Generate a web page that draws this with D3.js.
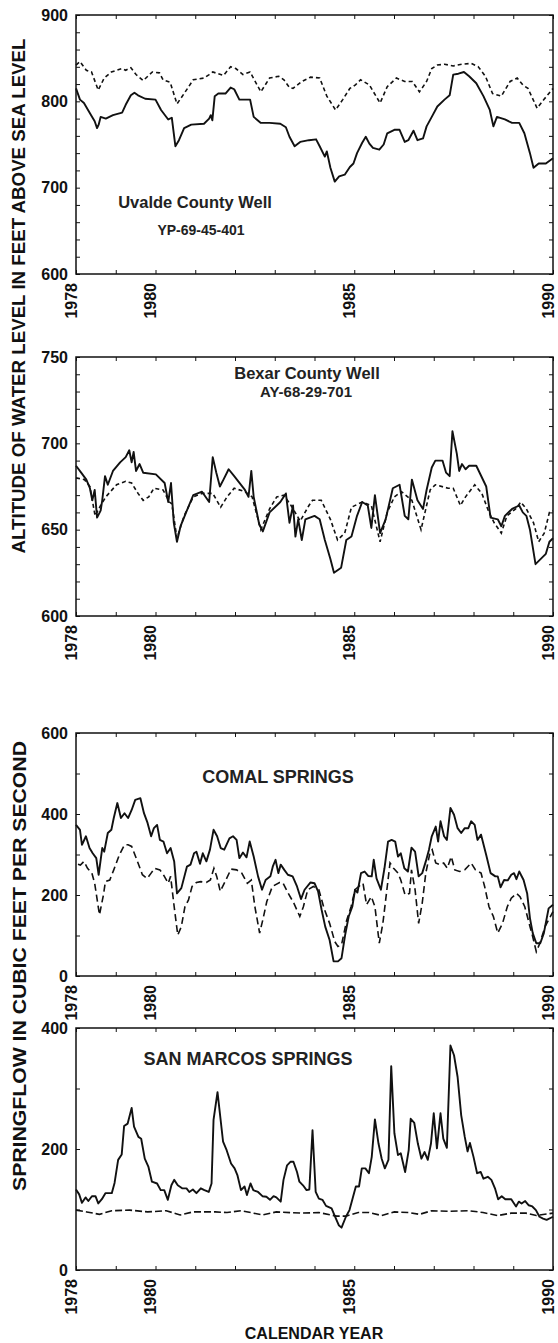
<!DOCTYPE html>
<html>
<head>
<meta charset="utf-8">
<script src="https://cdn.jsdelivr.net/npm/d3@7/dist/d3.min.js"></script>
<style>
body { margin: 0; background: #fff; }
svg { display: block; font-family: "Liberation Sans", Arial, sans-serif; font-weight: bold; }
</style>
</head>
<body>
<svg id="chart" width="558" height="1343"></svg>
<script>
// ---- data: [calendar year, value] ----
var yearTicks = d3.range(1978, 1991);
var yearLabels = [1978, 1980, 1985, 1990];

var uvaldeTicks = [600, 700, 800, 900];
var bexarTicks = [600, 650, 700, 750];
var comalTicks = [0, 200, 400, 600];
var sanMarcosTicks = [0, 200, 400];

var uvaldeMeasured = [[1978.0,815],[1978.1,802],[1978.2,798],[1978.38,784],[1978.47,777],[1978.53,769],[1978.57,773],[1978.62,782],[1978.75,780],[1978.93,784],[1979.16,787],[1979.25,796],[1979.38,807],[1979.47,810],[1979.56,807],[1979.74,803],[1980.0,802],[1980.14,790],[1980.32,779],[1980.41,781],[1980.5,748],[1980.59,755],[1980.72,769],[1980.9,773],[1981.22,774],[1981.35,780],[1981.39,784],[1981.43,778],[1981.49,806],[1981.58,809],[1981.76,809],[1981.89,816],[1981.98,814],[1982.11,802],[1982.25,802],[1982.38,802],[1982.47,782],[1982.65,775],[1982.87,775],[1983.14,774],[1983.28,770],[1983.37,759],[1983.5,748],[1983.64,753],[1983.86,755],[1984.04,756],[1984.13,748],[1984.26,736],[1984.31,742],[1984.4,723],[1984.51,707],[1984.62,713],[1984.76,715],[1984.89,724],[1984.98,728],[1985.07,740],[1985.2,752],[1985.29,759],[1985.38,751],[1985.47,746],[1985.63,744],[1985.74,750],[1985.83,763],[1986.01,767],[1986.14,767],[1986.27,753],[1986.36,755],[1986.49,766],[1986.59,755],[1986.73,757],[1986.82,771],[1986.95,782],[1987.09,794],[1987.27,802],[1987.4,807],[1987.49,831],[1987.62,832],[1987.76,834],[1987.89,829],[1988.07,821],[1988.25,806],[1988.41,790],[1988.5,771],[1988.59,782],[1988.79,779],[1988.97,775],[1989.15,775],[1989.28,763],[1989.42,740],[1989.51,723],[1989.64,728],[1989.82,728],[1990.0,734]];
var uvaldeSimulated = [[1978.0,842],[1978.1,846],[1978.26,836],[1978.39,834],[1978.56,813],[1978.71,827],[1978.89,834],[1979.16,838],[1979.25,836],[1979.38,839],[1979.51,831],[1979.69,824],[1979.92,834],[1980.1,833],[1980.19,825],[1980.37,822],[1980.54,797],[1980.72,809],[1980.95,825],[1981.22,827],[1981.35,831],[1981.44,834],[1981.71,830],[1981.89,840],[1982.02,838],[1982.2,831],[1982.38,834],[1982.65,811],[1982.87,827],[1983.1,829],[1983.23,825],[1983.37,816],[1983.46,815],[1983.68,823],[1983.9,828],[1984.13,827],[1984.31,806],[1984.53,790],[1984.71,802],[1984.89,815],[1985.03,819],[1985.16,825],[1985.38,819],[1985.65,798],[1985.83,817],[1986.06,827],[1986.27,823],[1986.46,823],[1986.64,811],[1986.82,823],[1986.95,838],[1987.09,842],[1987.27,843],[1987.49,841],[1987.71,843],[1987.94,844],[1988.12,840],[1988.3,829],[1988.48,809],[1988.7,806],[1988.92,823],[1989.1,827],[1989.24,819],[1989.37,815],[1989.6,792],[1989.77,802],[1990.0,815]];

var bexarMeasured = [[1978.0,687],[1978.13,683],[1978.26,679],[1978.35,674],[1978.41,667],[1978.47,673],[1978.53,657],[1978.62,661],[1978.66,667],[1978.73,681],[1978.8,676],[1978.93,684],[1979.11,689],[1979.25,692],[1979.34,696],[1979.4,689],[1979.45,695],[1979.51,684],[1979.6,688],[1979.69,683],[1980.01,682],[1980.23,677],[1980.32,666],[1980.39,677],[1980.46,654],[1980.54,643],[1980.63,652],[1980.77,660],[1980.95,670],[1981.17,672],[1981.35,666],[1981.44,692],[1981.53,683],[1981.62,675],[1981.71,679],[1981.84,685],[1981.98,681],[1982.25,673],[1982.34,669],[1982.41,684],[1982.47,669],[1982.61,653],[1982.7,649],[1982.87,660],[1983.14,666],[1983.28,671],[1983.37,654],[1983.46,664],[1983.52,646],[1983.59,656],[1983.68,644],[1983.77,656],[1984.0,658],[1984.13,656],[1984.26,644],[1984.4,633],[1984.49,625],[1984.67,628],[1984.8,644],[1984.93,646],[1985.07,658],[1985.2,666],[1985.34,664],[1985.43,651],[1985.52,670],[1985.65,648],[1985.79,656],[1985.97,674],[1986.14,676],[1986.27,658],[1986.36,656],[1986.45,679],[1986.59,667],[1986.73,662],[1986.82,673],[1986.95,686],[1987.04,690],[1987.22,690],[1987.31,683],[1987.4,681],[1987.47,707],[1987.58,694],[1987.64,684],[1987.71,688],[1987.8,685],[1987.89,687],[1988.07,687],[1988.32,675],[1988.43,657],[1988.61,656],[1988.7,652],[1988.79,658],[1988.97,662],[1989.15,664],[1989.24,660],[1989.33,658],[1989.42,650],[1989.56,630],[1989.82,636],[1989.91,643],[1990.0,645]];
var bexarSimulated = [[1978.0,680],[1978.21,679],[1978.35,675],[1978.48,658],[1978.62,664],[1978.75,669],[1979.02,676],[1979.25,678],[1979.4,677],[1979.56,671],[1979.69,667],[1979.83,669],[1979.96,674],[1980.19,673],[1980.35,666],[1980.41,665],[1980.54,645],[1980.72,658],[1980.95,669],[1981.17,671],[1981.44,671],[1981.64,663],[1981.8,669],[1981.98,674],[1982.25,672],[1982.43,669],[1982.65,650],[1982.87,662],[1983.05,669],[1983.23,670],[1983.41,664],[1983.64,655],[1983.86,664],[1983.95,667],[1984.17,667],[1984.4,656],[1984.58,644],[1984.76,648],[1984.93,663],[1985.2,666],[1985.43,664],[1985.65,643],[1985.83,660],[1986.01,669],[1986.19,672],[1986.45,667],[1986.68,650],[1986.82,664],[1986.91,673],[1987.04,676],[1987.36,674],[1987.49,674],[1987.67,664],[1987.8,669],[1988.03,676],[1988.21,671],[1988.39,660],[1988.52,654],[1988.7,648],[1988.84,658],[1989.06,662],[1989.19,666],[1989.33,662],[1989.51,654],[1989.64,643],[1989.78,648],[1989.91,660],[1990.0,661]];

var comalMeasured = [[1978.0,373],[1978.1,361],[1978.15,324],[1978.25,345],[1978.34,316],[1978.42,303],[1978.51,291],[1978.57,250],[1978.66,316],[1978.71,307],[1978.8,353],[1978.89,361],[1978.95,390],[1979.04,427],[1979.13,390],[1979.22,402],[1979.31,390],[1979.4,410],[1979.49,435],[1979.62,439],[1979.71,402],[1979.8,378],[1979.89,345],[1979.96,365],[1980.04,373],[1980.11,336],[1980.2,332],[1980.29,303],[1980.38,316],[1980.47,283],[1980.54,204],[1980.65,217],[1980.79,270],[1980.88,275],[1980.97,303],[1981.03,307],[1981.12,277],[1981.19,303],[1981.28,283],[1981.37,312],[1981.46,361],[1981.55,345],[1981.64,316],[1981.73,312],[1981.86,340],[1981.95,345],[1982.04,336],[1982.11,291],[1982.2,305],[1982.29,293],[1982.37,332],[1982.47,295],[1982.58,246],[1982.68,213],[1982.77,237],[1982.89,246],[1982.95,270],[1983.02,287],[1983.09,254],[1983.15,275],[1983.24,262],[1983.33,250],[1983.45,246],[1983.56,221],[1983.66,190],[1983.75,213],[1983.9,231],[1984.0,229],[1984.09,209],[1984.18,163],[1984.27,122],[1984.38,89],[1984.48,36],[1984.59,36],[1984.68,44],[1984.77,101],[1984.86,147],[1984.95,171],[1985.02,213],[1985.08,206],[1985.17,254],[1985.26,258],[1985.35,247],[1985.44,246],[1985.49,287],[1985.56,241],[1985.67,213],[1985.76,266],[1985.85,332],[1985.94,336],[1986.03,332],[1986.1,295],[1986.17,303],[1986.26,266],[1986.35,258],[1986.44,317],[1986.53,307],[1986.62,246],[1986.71,254],[1986.8,283],[1986.88,312],[1986.95,345],[1987.05,369],[1987.11,332],[1987.17,382],[1987.26,345],[1987.33,336],[1987.42,415],[1987.51,398],[1987.6,365],[1987.69,353],[1987.78,365],[1987.87,365],[1987.94,382],[1988.03,373],[1988.1,336],[1988.19,349],[1988.32,299],[1988.43,254],[1988.55,246],[1988.61,246],[1988.68,219],[1988.77,237],[1988.86,236],[1988.95,250],[1989.02,254],[1989.08,239],[1989.15,258],[1989.26,237],[1989.35,204],[1989.42,143],[1989.49,106],[1989.58,81],[1989.68,81],[1989.77,106],[1989.89,167],[1990.0,176]];
var comalSimulated = [[1978.05,276],[1978.11,274],[1978.2,283],[1978.29,266],[1978.4,254],[1978.47,229],[1978.59,151],[1978.69,200],[1978.74,233],[1978.85,237],[1978.95,262],[1979.09,299],[1979.22,324],[1979.31,324],[1979.4,320],[1979.53,287],[1979.67,250],[1979.79,241],[1979.89,254],[1979.98,266],[1980.11,262],[1980.2,250],[1980.32,229],[1980.38,246],[1980.47,171],[1980.56,101],[1980.65,122],[1980.74,171],[1980.83,188],[1980.92,221],[1981.03,231],[1981.14,233],[1981.28,231],[1981.38,237],[1981.47,266],[1981.54,246],[1981.63,209],[1981.77,237],[1981.9,264],[1982.04,262],[1982.17,254],[1982.31,229],[1982.41,237],[1982.5,171],[1982.62,106],[1982.71,143],[1982.8,184],[1982.94,221],[1983.12,231],[1983.2,231],[1983.34,204],[1983.48,180],[1983.63,147],[1983.72,171],[1983.83,213],[1983.97,221],[1984.11,213],[1984.24,167],[1984.38,130],[1984.51,85],[1984.59,73],[1984.68,77],[1984.81,138],[1984.92,171],[1985.02,213],[1985.11,221],[1985.22,229],[1985.31,176],[1985.43,196],[1985.52,171],[1985.63,81],[1985.72,130],[1985.81,204],[1985.9,279],[1985.99,266],[1986.1,254],[1986.17,237],[1986.28,200],[1986.39,204],[1986.44,262],[1986.53,213],[1986.62,130],[1986.71,180],[1986.8,254],[1986.91,307],[1986.96,312],[1987.05,279],[1987.16,275],[1987.25,279],[1987.34,266],[1987.44,295],[1987.53,262],[1987.65,258],[1987.78,262],[1987.94,279],[1988.05,262],[1988.19,254],[1988.28,221],[1988.39,171],[1988.5,147],[1988.61,106],[1988.73,130],[1988.85,171],[1988.95,192],[1989.08,204],[1989.17,196],[1989.29,171],[1989.4,130],[1989.49,97],[1989.58,60],[1989.67,81],[1989.8,122],[1990.0,159]];

var sanMarcosMeasured = [[1978.0,133],[1978.08,125],[1978.15,111],[1978.24,120],[1978.31,114],[1978.4,122],[1978.49,122],[1978.56,110],[1978.65,117],[1978.74,127],[1978.9,127],[1978.97,144],[1979.06,182],[1979.15,191],[1979.21,238],[1979.3,242],[1979.4,268],[1979.46,237],[1979.57,220],[1979.64,217],[1979.73,184],[1979.82,171],[1979.91,146],[1980.04,143],[1980.13,132],[1980.22,132],[1980.31,116],[1980.4,140],[1980.47,149],[1980.56,140],[1980.67,135],[1980.78,135],[1980.85,129],[1980.94,133],[1981.03,127],[1981.14,135],[1981.23,132],[1981.34,129],[1981.41,143],[1981.46,248],[1981.56,294],[1981.7,212],[1981.79,198],[1981.9,176],[1981.99,168],[1982.06,157],[1982.15,132],[1982.24,138],[1982.3,124],[1982.39,143],[1982.46,132],[1982.58,129],[1982.69,122],[1982.79,121],[1982.88,116],[1982.97,122],[1983.04,120],[1983.15,113],[1983.22,149],[1983.31,173],[1983.4,179],[1983.47,179],[1983.56,162],[1983.62,146],[1983.71,140],[1983.8,132],[1983.87,133],[1983.95,231],[1984.03,129],[1984.11,118],[1984.2,116],[1984.29,106],[1984.43,102],[1984.52,88],[1984.61,74],[1984.68,70],[1984.79,88],[1984.88,99],[1984.95,116],[1985.04,138],[1985.12,138],[1985.19,168],[1985.28,168],[1985.37,160],[1985.44,187],[1985.52,249],[1985.61,209],[1985.69,184],[1985.77,168],[1985.86,182],[1985.93,337],[1986.01,226],[1986.1,190],[1986.17,193],[1986.28,162],[1986.37,198],[1986.42,250],[1986.51,243],[1986.6,209],[1986.69,184],[1986.77,195],[1986.85,182],[1986.93,209],[1987.0,259],[1987.08,201],[1987.17,259],[1987.24,217],[1987.33,202],[1987.42,371],[1987.51,355],[1987.6,319],[1987.69,256],[1987.78,220],[1987.85,196],[1987.91,210],[1988.0,187],[1988.09,160],[1988.18,162],[1988.25,151],[1988.36,154],[1988.45,149],[1988.54,135],[1988.62,117],[1988.71,122],[1988.8,117],[1988.95,117],[1989.07,105],[1989.14,113],[1989.21,110],[1989.3,114],[1989.39,107],[1989.48,105],[1989.57,99],[1989.66,88],[1989.75,85],[1989.84,83],[1990.0,88]];
var sanMarcosSimulated = [[1978.0,99],[1978.27,96],[1978.59,92],[1978.9,98],[1979.35,99],[1979.8,96],[1980.27,98],[1980.62,91],[1980.94,96],[1981.5,96],[1981.8,95],[1982.16,98],[1982.69,91],[1983.04,96],[1983.67,94],[1984.11,95],[1984.56,89],[1984.79,89],[1985.1,95],[1985.37,95],[1985.69,90],[1986.01,96],[1986.37,95],[1986.64,92],[1986.95,98],[1987.36,97],[1987.88,98],[1988.24,95],[1988.61,90],[1988.95,94],[1989.32,94],[1989.58,90],[1990.0,94]];

// ---- layout ----
var svg = d3.select("#chart");
var left = 76, right = 553;
var ink = "#111";

var x = d3.scaleLinear().domain([1978, 1990]).range([left, right]);

var panels = [
  { top: 15, bottom: 274, ticks: uvaldeTicks, minor: 20, measured: uvaldeMeasured, simulated: uvaldeSimulated, dash: "4,3",
    titles: [{ text: "Uvalde County Well", x: 195, y: 208, size: 16.5 }, { text: "YP-69-45-401", x: 201, y: 235, size: 14 }] },
  { top: 357, bottom: 616, ticks: bexarTicks, minor: 10, measured: bexarMeasured, simulated: bexarSimulated, dash: "4,3",
    titles: [{ text: "Bexar County Well", x: 307, y: 379, size: 16.5 }, { text: "AY-68-29-701", x: 306, y: 397, size: 15 }] },
  { top: 733, bottom: 976, ticks: comalTicks, minor: 100, measured: comalMeasured, simulated: comalSimulated, dash: "7,4",
    titles: [{ text: "COMAL SPRINGS", x: 278, y: 783, size: 18 }] },
  { top: 1028, bottom: 1270, ticks: sanMarcosTicks, minor: 100, measured: sanMarcosMeasured, simulated: sanMarcosSimulated, dash: "7,3",
    titles: [{ text: "SAN MARCOS SPRINGS", x: 248, y: 1065, size: 18 }] }
];

panels.forEach(function(p) {
  var lo = d3.min(p.ticks), hi = d3.max(p.ticks);
  var y = d3.scaleLinear().domain([lo, hi]).range([p.bottom, p.top]);
  var minorTicks = d3.range(lo, hi + p.minor / 2, p.minor);
  var g = svg.append("g");

  // bottom axis with rotated year labels
  var bx = g.append("g").attr("transform", "translate(0," + p.bottom + ")")
    .call(d3.axisBottom(x).tickValues(yearTicks).tickSize(-4)
      .tickFormat(function(d) { return yearLabels.indexOf(d) >= 0 ? d : ""; }));
  bx.selectAll("text")
    .attr("transform", "rotate(-90)")
    .attr("x", -9).attr("y", 0).attr("dy", "0em")
    .style("text-anchor", "end");

  g.append("g").attr("transform", "translate(0," + p.top + ")")
    .call(d3.axisTop(x).tickValues(yearTicks).tickSize(-4).tickFormat(""));

  g.append("g").attr("transform", "translate(" + left + ",0)")
    .call(d3.axisLeft(y).tickValues(minorTicks).tickSize(-4).tickPadding(8)
      .tickFormat(function(d) { return p.ticks.indexOf(d) >= 0 ? d : ""; }));

  g.append("g").attr("transform", "translate(" + right + ",0)")
    .call(d3.axisRight(y).tickValues(minorTicks).tickSize(-4).tickFormat(""));

  g.selectAll(".domain").remove();
  g.selectAll(".tick line").attr("stroke", ink).attr("stroke-width", 1);
  g.selectAll(".tick text").attr("fill", ink).attr("font-size", 16)
    .attr("font-family", "'Liberation Sans', Arial, sans-serif").attr("font-weight", "bold");

  var line = d3.line().x(function(d) { return x(d[0]); }).y(function(d) { return y(d[1]); });

  g.append("path").datum(p.simulated).attr("d", line)
    .attr("fill", "none").attr("stroke", ink).attr("stroke-width", 1.6)
    .attr("stroke-dasharray", p.dash);

  g.append("path").datum(p.measured).attr("d", line)
    .attr("fill", "none").attr("stroke", ink).attr("stroke-width", 1.9)
    .attr("stroke-linejoin", "round");

  g.append("rect")
    .attr("x", left).attr("y", p.top)
    .attr("width", right - left).attr("height", p.bottom - p.top)
    .attr("fill", "none").attr("stroke", ink).attr("stroke-width", 1.5);

  p.titles.forEach(function(t) {
    g.append("text").attr("x", t.x).attr("y", t.y)
      .attr("text-anchor", "middle").attr("font-size", t.size)
      .attr("fill", "#222").text(t.text);
  });
});

// axis titles
svg.append("text")
  .attr("transform", "translate(25,296) rotate(-90)")
  .attr("text-anchor", "middle").attr("font-size", 18)
  .attr("textLength", 515).attr("lengthAdjust", "spacingAndGlyphs")
  .attr("fill", ink).text("ALTITUDE OF WATER LEVEL IN FEET ABOVE SEA LEVEL");

svg.append("text")
  .attr("transform", "translate(26,966) rotate(-90)")
  .attr("text-anchor", "middle").attr("font-size", 19)
  .attr("textLength", 450).attr("lengthAdjust", "spacingAndGlyphs")
  .attr("fill", ink).text("SPRINGFLOW IN CUBIC FEET PER SECOND");

svg.append("text")
  .attr("x", 314).attr("y", 1339)
  .attr("text-anchor", "middle").attr("font-size", 16)
  .attr("fill", ink).text("CALENDAR YEAR");
</script>
</body>
</html>
